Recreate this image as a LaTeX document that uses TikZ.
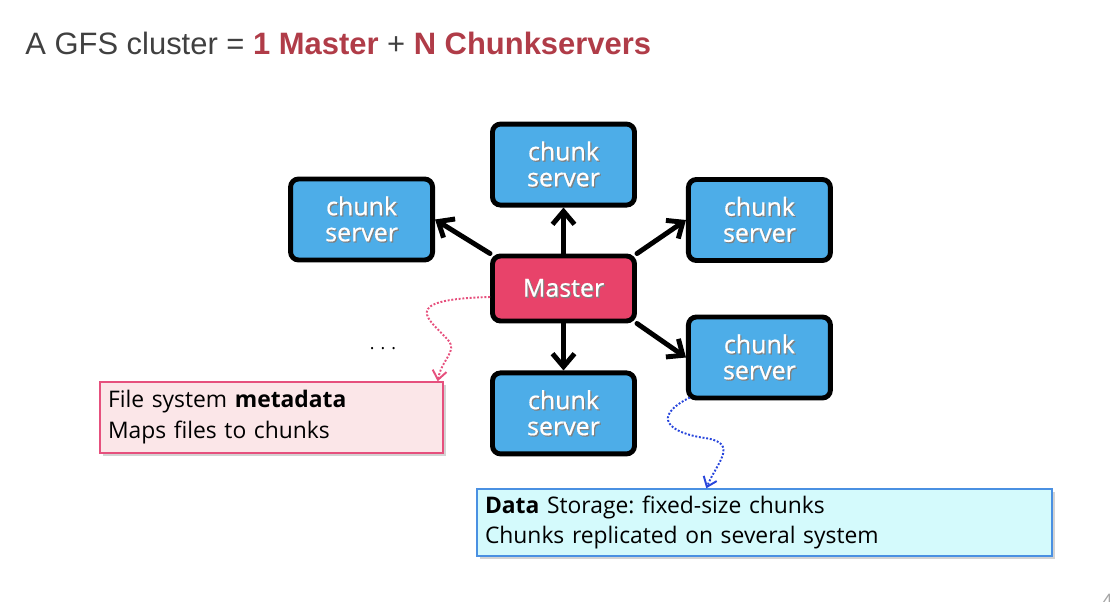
\documentclass[tikz,border=0pt]{standalone}
\usepackage{fontspec}
\setmainfont{Open Sans}
\newfontfamily\titlefont{Liberation Sans}
\newfontfamily\boxfont[FakeBold=0.6]{Open Sans}
\usetikzlibrary{positioning, arrows.meta, shadows}
\definecolor{chunkblue}{RGB}{77,173,232}
\definecolor{masterred}{RGB}{232,67,106}
\definecolor{titlered}{RGB}{176,60,72}
\definecolor{titlegray}{RGB}{64,64,64}
\definecolor{metapink}{RGB}{230,80,125}
\definecolor{metafill}{RGB}{251,230,232}
\definecolor{databorder}{RGB}{74,144,226}
\definecolor{datafill}{RGB}{212,250,252}
\definecolor{datablue}{RGB}{40,70,220}
\tikzset{
    server/.style={draw, rectangle, rounded corners=0.16cm, line width=2.8pt, fill=chunkblue, text=white, minimum width=2.84cm, minimum height=1.62cm, align=center, font=\boxfont\fontsize{14.2}{14.8}\selectfont},
    master/.style={server, fill=masterred, minimum height=1.3cm},
    push/.style={-{Straight Barb[length=0.26cm,width=0.44cm]}, line width=2.8pt, line cap=round, line join=round},
    note/.style={draw, rectangle, line width=0.8pt, align=left, inner xsep=0.16cm, font=\frenchspacing\fontsize{13}{17.6}\selectfont, drop shadow={shadow xshift=0.06cm, shadow yshift=-0.06cm, opacity=0.35}},
    metanote/.style={note, draw=metapink, fill=metafill, text width=6.54cm, minimum height=1.42cm},
    datanote/.style={note, draw=databorder, fill=datafill, text width=11.18cm, minimum height=1.34cm},
    hint/.style={-{Straight Barb[length=0.18cm,width=0.28cm]}, densely dotted, line width=1.1pt} }
\newcommand{\shtext}[1]{\makebox[0pt][l]{\kern0.7pt\raisebox{-0.7pt}{\color{black!50}#1}}#1}

\begin{document}
\begin{tikzpicture}[node distance=0.92cm]
			\useasboundingbox (0,0) rectangle (22.2,-12.04);
			\node[anchor=base west, inner sep=0, text=titlegray, font=\titlefont\fontsize{17.6}{20}\selectfont] (title) at (0.5,-1.1) {A GFS cluster = {\color{titlered}\bfseries 1 Master} + {\color{titlered}\bfseries N Chunkservers}};
			\node[master] (M) at (11.27,-5.77) {\shtext{Master}};
			\node[server, above = of M] (top) {\shtext{chunk}\\\shtext{server}};
			\node[server, below = 0.94cm of M] (bottom) {\shtext{chunk}\\\shtext{server}};
			\node[server, left = 1.1cm of M, yshift=1.38cm] (left) {\shtext{chunk}\\\shtext{server}};
			\node[server, right = 0.98cm of M, yshift=1.37cm] (ru) {\shtext{chunk}\\\shtext{server}};
			\node[server, right = 0.98cm of M, yshift=-1.38cm] (rl) {\shtext{chunk}\\\shtext{server}};
			\node[anchor=base] (dots) at (7.66,-6.98) {. . .};
			\node[metanote] (meta) at (5.43,-8.35) {File system \textbf{metadata}\\Maps files to chunks};
			\node[datanote] (data) at (15.29,-10.45) {\textbf{Data} Storage: fixed-size chunks\\Chunks replicated on several system};
			\node[anchor=base west, text=black!35, font=\titlefont\fontsize{11}{12}\selectfont] (page) at (21.92,-12.14) {4};
			% ----
			\draw[push] (M) to (top);
			\draw[push] (M) to (bottom);
			\draw[push] (M.north west) to (left.east);
			\draw[push] (M.north east) to (ru.west);
			\draw[push] (M.south east) to (rl.west);

			\coordinate (metabend) at (8.96,-6.8);
			\draw[hint, metapink] ([yshift=-0.17cm]M.west) .. controls +(-1.9,-0.05) and +(-0.35,0.4) .. (metabend) .. controls +(0.2,-0.23) and +(0.08,0.45) .. ([xshift=-0.12cm]meta.north east);

			\coordinate (databend) at (14.1,-8.76);
			\draw[hint, datablue] ([shift={(0.08cm,0.06cm)}]rl.south west) .. controls +(-0.8,-0.4) and +(-0.7,0.1) .. (databend) .. controls +(0.7,-0.1) and +(0.2,0.5) .. ([xshift=4.6cm]data.north west);
		\end{tikzpicture}
\end{document}
